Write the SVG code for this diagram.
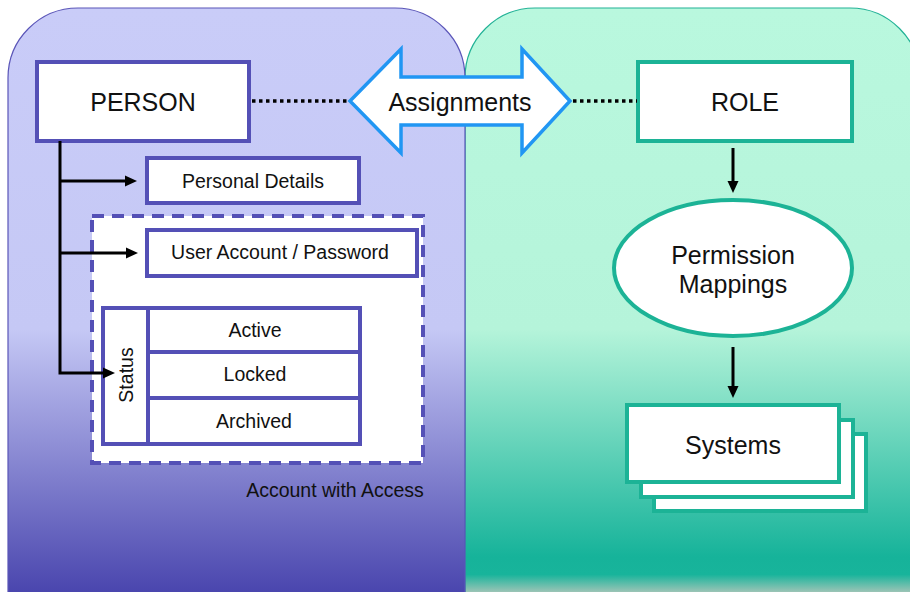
<svg xmlns="http://www.w3.org/2000/svg" width="910" height="592" viewBox="0 0 910 592">
<defs>
<linearGradient id="gL" gradientUnits="userSpaceOnUse" x1="0" y1="8" x2="0" y2="592">
<stop offset="0" stop-color="#C9CCF8"/>
<stop offset="0.55" stop-color="#C5C8F5"/>
<stop offset="1" stop-color="#4A46AE"/>
</linearGradient>
<linearGradient id="gR" gradientUnits="userSpaceOnUse" x1="0" y1="8" x2="0" y2="592">
<stop offset="0" stop-color="#B9F8DE"/>
<stop offset="0.55" stop-color="#B5F4DA"/>
<stop offset="0.94" stop-color="#16B39A"/>
<stop offset="0.97" stop-color="#18B49B"/>
<stop offset="1" stop-color="#9CC4B6"/>
</linearGradient>
<marker id="ah" markerUnits="userSpaceOnUse" viewBox="0 0 12 12" refX="1" refY="6" markerWidth="12" markerHeight="12" orient="auto">
<path d="M0,0.5 L12,6 L0,11.5 Z" fill="#000"/>
</marker>
<style>
.t{font-family:"Liberation Sans",Arial,sans-serif;fill:#111;text-anchor:middle}
.big{font-size:25px}
.sm{font-size:19.5px}
.pb{fill:#fff;stroke:#5450B6;stroke-width:4}
.tb{fill:#fff;stroke:#1CB396;stroke-width:4}
.cn{stroke:#000;stroke-width:3;fill:none}
.dot{stroke:#000;stroke-width:3.5;stroke-dasharray:3.5 3.5;fill:none}
</style>
</defs>
<g id="panels">
<path d="M465,600 V78 A70,70 0 0 1 535,8 H850 A70,70 0 0 1 920,78 V600 Z" fill="url(#gR)" stroke="#22B296" stroke-width="1.2"/>
<path d="M8,600 V78 A70,70 0 0 1 78,8 H395 A70,70 0 0 1 465,78 V600 Z" fill="url(#gL)" stroke="#5A55B8" stroke-width="1.2"/>
</g>
<g id="account-with-access">
<rect x="92" y="216" width="331" height="247" fill="#fff" stroke="#5450B6" stroke-width="4" stroke-dasharray="12 8"/>
<text class="t sm" x="335" y="497">Account with Access</text>
</g>
<g id="person">
<rect class="pb" x="37" y="62" width="212" height="79"/>
<text class="t big" x="143" y="111">PERSON</text>
</g>
<g id="personal-details">
<rect class="pb" x="147" y="158" width="212" height="45"/>
<text class="t sm" x="253" y="188">Personal Details</text>
</g>
<g id="user-account">
<rect class="pb" x="147" y="230" width="270" height="46"/>
<text class="t sm" x="280" y="259">User Account / Password</text>
</g>
<g id="status">
<rect class="pb" x="103" y="308" width="257" height="136"/>
<line x1="148" y1="308" x2="148" y2="444" stroke="#5450B6" stroke-width="4"/>
<line x1="148" y1="352" x2="360" y2="352" stroke="#5450B6" stroke-width="4"/>
<line x1="148" y1="398" x2="360" y2="398" stroke="#5450B6" stroke-width="4"/>
<text class="t sm" x="0" y="0" transform="translate(133,375) rotate(-90)">Status</text>
<text class="t sm" x="255" y="337">Active</text>
<text class="t sm" x="255" y="381">Locked</text>
<text class="t sm" x="254" y="428">Archived</text>
</g>
<g id="assignments">
<polygon points="350,101 401,49 401,77 522,77 522,49 570,101 522,153 522,125 401,125 401,153" fill="#fff" stroke="#2196F3" stroke-width="3.5" stroke-linejoin="miter"/>
<text class="t big" x="460" y="111">Assignments</text>
</g>
<g id="role">
<rect class="tb" x="638" y="62" width="214" height="79"/>
<text class="t big" x="745" y="111">ROLE</text>
</g>
<g id="permission-mappings">
<ellipse class="tb" cx="733" cy="268" rx="119" ry="68"/>
<text class="t big" x="733" y="264">Permission</text>
<text class="t big" x="733" y="293">Mappings</text>
</g>
<g id="systems">
<rect class="tb" x="654" y="434" width="212" height="77"/>
<rect class="tb" x="641" y="420" width="212" height="77"/>
<rect class="tb" x="627" y="405" width="212" height="77"/>
<text class="t big" x="733" y="454">Systems</text>
</g>
<g id="connectors">
<polyline class="cn" points="60,141 60,373 104,373" marker-end="url(#ah)"/>
<line class="cn" x1="60" y1="181" x2="126" y2="181" marker-end="url(#ah)"/>
<line class="cn" x1="60" y1="253" x2="127" y2="253" marker-end="url(#ah)"/>
<line class="dot" x1="252" y1="101" x2="350" y2="101"/>
<line class="dot" x1="573" y1="101" x2="637" y2="101"/>
<line class="cn" x1="733" y1="148" x2="733" y2="182" marker-end="url(#ah)"/>
<line class="cn" x1="733" y1="347" x2="733" y2="387" marker-end="url(#ah)"/>
</g>
</svg>
